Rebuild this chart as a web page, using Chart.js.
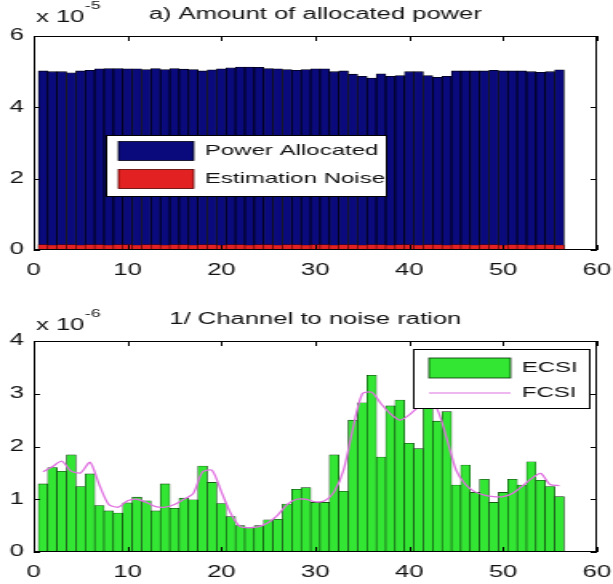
<!DOCTYPE html>
<html>
<head>
<meta charset="utf-8">
<script src="https://cdn.jsdelivr.net/npm/chart.js@4.4.1/dist/chart.umd.min.js"></script>
<style>
  html, body { margin: 0; padding: 0; background: #fff; }
  #wrap { position: relative; width: 613px; height: 584px; overflow: hidden; }
  /* the source figure was stretched sideways, so the canvases are too */
  canvas { position: absolute; left: 0; width: 613px !important; height: 292px !important; }
  #top { top: 0; }
  #bottom { top: 292px; }
</style>
</head>
<body>
<div id="wrap">
  <canvas id="top" width="383" height="292" style="width:613px;height:292px"></canvas>
  <canvas id="bottom" width="383" height="292" style="width:613px;height:292px"></canvas>
</div>
<script>
// subcarrier index
const subcarrier = [1,2,3,4,5,6,7,8,9,10,11,12,13,14,15,16,17,18,19,20,21,22,23,24,25,26,27,28,
  29,30,31,32,33,34,35,36,37,38,39,40,41,42,43,44,45,46,47,48,49,50,51,52,53,54,55,56];

// a) power, in units of 1e-5
const powerAllocated = [5.02,5.00,5.00,4.97,5.02,5.04,5.08,5.09,5.09,5.08,5.08,5.06,5.09,5.06,
  5.09,5.07,5.06,5.02,5.05,5.08,5.11,5.13,5.13,5.12,5.09,5.08,5.06,5.04,5.06,5.08,5.08,5.00,
  5.02,4.93,4.87,4.82,4.94,4.87,4.89,5.00,5.00,4.89,4.84,4.87,5.02,5.02,5.02,5.02,5.04,5.02,
  5.02,5.02,5.00,4.98,5.00,5.05];
const estimationNoise = [0.15,0.14,0.15,0.15,0.14,0.15,0.15,0.14,0.15,0.15,0.14,0.15,0.15,0.14,
  0.15,0.15,0.14,0.15,0.15,0.14,0.15,0.15,0.14,0.15,0.15,0.14,0.15,0.15,0.14,0.15,0.15,0.14,
  0.15,0.15,0.14,0.15,0.15,0.14,0.15,0.15,0.14,0.15,0.15,0.14,0.15,0.15,0.14,0.15,0.15,0.14,
  0.15,0.15,0.14,0.15,0.15,0.14];

// 1/CNR, in units of 1e-6
const ecsi = [1.29,1.60,1.53,1.84,1.24,1.48,0.88,0.78,0.74,0.93,1.04,0.97,0.78,1.29,0.83,1.02,
  0.99,1.63,1.32,0.92,0.67,0.50,0.46,0.50,0.61,0.62,0.91,1.19,1.22,0.94,0.94,1.84,1.15,2.50,
  2.83,3.35,1.80,2.77,2.88,2.06,1.96,2.90,2.48,2.66,1.27,1.65,1.13,1.38,0.94,1.13,1.38,1.27,
  1.71,1.36,1.24,1.05];
const fcsi = [1.52,1.62,1.72,1.53,1.50,1.70,1.27,0.90,0.85,0.97,1.00,0.94,0.86,0.85,0.90,1.00,
  1.11,1.52,1.55,1.14,0.73,0.48,0.46,0.48,0.56,0.70,0.90,1.00,1.00,0.95,0.97,1.14,1.55,2.34,
  3.00,3.03,2.81,2.62,2.50,2.60,2.75,2.85,2.70,2.15,1.55,1.28,1.14,1.08,1.05,1.05,1.11,1.24,
  1.39,1.49,1.28,1.26];

const xTicks = [0,10,20,30,40,50,60];
const topYTicks = [0,2,4,6];
const bottomYTicks = [0,1,2,3,4];

const FONT = '"Liberation Sans", Arial, Helvetica, sans-serif';
Chart.defaults.font.family = FONT;
Chart.defaults.font.size = 16;
Chart.defaults.color = '#111';

const toXY = vals => vals.map((v, i) => ({ x: subcarrier[i], y: v }));

// matlab style box with inward ticks on all four sides
const frameTicks = {
  id: 'frameTicks',
  afterDatasetsDraw(chart) {
    const { ctx, chartArea: a, scales: { x, y } } = chart;
    ctx.save();
    ctx.strokeStyle = '#000';
    ctx.lineWidth = 1;
    ctx.beginPath();
    x.ticks.forEach(t => {
      const px = Math.round(x.getPixelForValue(t.value)) + 0.5;
      ctx.moveTo(px, a.bottom); ctx.lineTo(px, a.bottom - 5);
      ctx.moveTo(px, a.top); ctx.lineTo(px, a.top + 5);
    });
    y.ticks.forEach(t => {
      const py = Math.round(y.getPixelForValue(t.value)) + 0.5;
      ctx.moveTo(a.left, py); ctx.lineTo(a.left + 4, py);
      ctx.moveTo(a.right, py); ctx.lineTo(a.right - 4, py);
    });
    ctx.stroke();
    ctx.strokeRect(Math.round(a.left) + 0.5, Math.round(a.top) + 0.5,
      Math.round(a.width) - 1, Math.round(a.height) - 1);
    ctx.restore();
  }
};

// title, "x 10^n" multiplier and the boxed legend
const matlabText = {
  id: 'matlabText',
  afterDraw(chart, args, o) {
    const { ctx, chartArea: a } = chart;
    ctx.save();
    ctx.fillStyle = '#111';
    ctx.textBaseline = 'middle';
    ctx.font = '16px ' + FONT;
    ctx.textAlign = 'center';
    ctx.fillText(o.title, (a.left + a.right) / 2, o.titleY);
    ctx.textAlign = 'left';
    ctx.fillText('x 10', 22.5, o.expY);
    ctx.font = '11px ' + FONT;
    ctx.fillText(o.exp, 53, o.expY - 12);

    const L = o.legend;
    ctx.fillStyle = '#fff';
    ctx.fillRect(L.x, L.y, L.w, L.h);
    ctx.strokeStyle = '#000';
    ctx.lineWidth = 1;
    ctx.strokeRect(L.x + 0.5, L.y + 0.5, L.w, L.h);
    ctx.font = '15px ' + FONT;
    chart.data.datasets.forEach((ds, i) => {
      const cy = L.rows[i];
      if (ds.type === 'line') {
        ctx.strokeStyle = ds.borderColor;
        ctx.lineWidth = 1.2;
        ctx.beginPath();
        ctx.moveTo(L.sx, cy); ctx.lineTo(L.sx + L.sw, cy);
        ctx.stroke();
      } else {
        ctx.fillStyle = ds.backgroundColor;
        ctx.fillRect(L.sx, cy - L.sh / 2, L.sw, L.sh);
        ctx.strokeStyle = ds.borderColor;
        ctx.lineWidth = 0.8;
        ctx.strokeRect(L.sx, cy - L.sh / 2, L.sw, L.sh);
      }
      ctx.fillStyle = '#111';
      ctx.fillText(ds.label, L.tx, cy);
    });
    ctx.restore();
  }
};

function axes(yMax, yTicks, xHeight) {
  return {
    x: {
      type: 'linear', min: 0, max: 60, offset: false,
      // tick marks are drawn by frameTicks; tickLength only spaces the labels
      grid: { display: false, drawTicks: true, tickLength: 11 }, border: { display: false },
      ticks: { padding: 0, maxRotation: 0 },
      afterBuildTicks: s => { s.ticks = xTicks.map(v => ({ value: v })); },
      afterFit: s => { s.height = xHeight; }
    },
    y: {
      min: 0, max: yMax,
      grid: { display: false, drawTicks: false }, border: { display: false },
      ticks: { padding: 6 },
      afterBuildTicks: s => { s.ticks = yTicks.map(v => ({ value: v })); },
      afterFit: s => { s.width = 21; }
    }
  };
}

new Chart(document.getElementById('top'), {
  type: 'bar',
  data: {
    datasets: [
      { label: 'Power Allocated', data: toXY(powerAllocated), backgroundColor: '#0a0a7c',
        borderColor: '#000012', borderWidth: 0.8, order: 1 },
      { label: 'Estimation Noise', data: toXY(estimationNoise), backgroundColor: '#e22222',
        borderColor: '#550000', borderWidth: 0.6, order: 0 }
    ]
  },
  options: {
    responsive: false, devicePixelRatio: 1, animation: false,
    layout: { padding: { top: 36, right: 10, bottom: 0, left: 0 } },
    datasets: { bar: { grouped: false, barPercentage: 1, categoryPercentage: 1 } },
    scales: axes(6, topYTicks, 42),
    plugins: {
      legend: { display: false }, tooltip: { enabled: false },
      matlabText: {
        title: 'a) Amount of allocated power', titleY: 15, exp: '-5', expY: 18,
        legend: { x: 66, y: 135, w: 175, h: 61, sx: 74, sw: 47, sh: 19, tx: 128, rows: [151, 179] }
      }
    }
  },
  plugins: [frameTicks, matlabText]
});

new Chart(document.getElementById('bottom'), {
  type: 'bar',
  data: {
    datasets: [
      { type: 'bar', label: 'ECSI', data: toXY(ecsi), backgroundColor: '#33e633',
        borderColor: '#0a300a', borderWidth: 0.6, barPercentage: 1, categoryPercentage: 1, order: 1 },
      { type: 'line', label: 'FCSI', data: toXY(fcsi), borderColor: '#e070e0',
        borderWidth: 1.3, pointRadius: 0, tension: 0.25, order: 0 }
    ]
  },
  options: {
    responsive: false, devicePixelRatio: 1, animation: false,
    layout: { padding: { top: 49, right: 10, bottom: 0, left: 0 } },
    scales: axes(4, bottomYTicks, 32),
    plugins: {
      legend: { display: false }, tooltip: { enabled: false },
      matlabText: {
        title: '1/ Channel to noise ration', titleY: 28, exp: '-6', expY: 34,
        legend: { x: 258, y: 57, w: 110, h: 59, sx: 268, sw: 51, sh: 20, tx: 326, rows: [76, 101] }
      }
    }
  },
  plugins: [frameTicks, matlabText]
});
</script>
</body>
</html>
